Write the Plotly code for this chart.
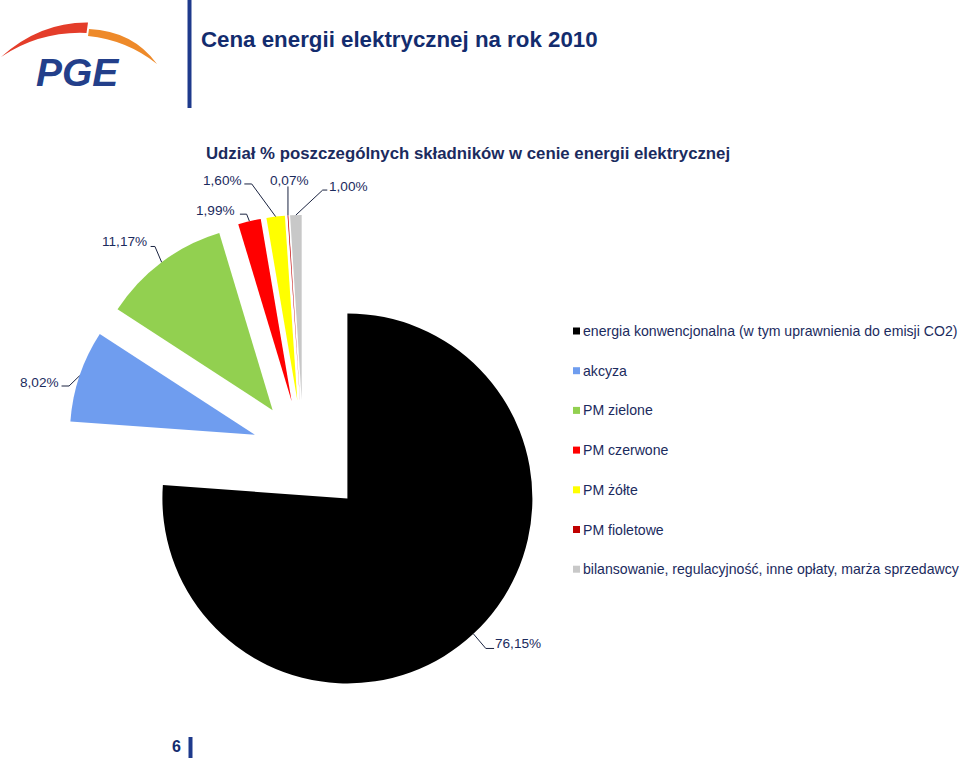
import math
import plotly.graph_objects as go

W, H = 960, 758

# ---------------- data ----------------
labels = [
    "energia konwencjonalna (w tym uprawnienia do emisji CO2)",
    "akcyza",
    "PM zielone",
    "PM czerwone",
    "PM żółte",
    "PM fioletowe",
    "bilansowanie, regulacyjność, inne opłaty, marża sprzedawcy",
]
values = [76.15, 8.02, 11.17, 1.99, 1.60, 0.07, 1.00]
value_text = ["76,15%", "8,02%", "11,17%", "1,99%", "1,60%", "0,07%", "1,00%"]
colors = ["#000000", "#6F9DEF", "#92D050", "#FF0000", "#FFFF00", "#C00000", "#C8C8C8"]
pulls = [0.35, 0.276, 0.276, 0.276, 0.276, 0.276, 0.276]

page_title = "Cena energii elektrycznej na rok 2010"
chart_title = "Udział % poszczególnych składników w cenie energii elektrycznej"
page_number = "6"

# ---------------- geometry (pixels) ----------------
CX, CY, R = 303.3, 451.0, 185.0
half = R * (1 + max(pulls))


def px(x):
    return x / W


def py(y):
    return 1 - y / H


NAVY = "#1B2B5E"
TITLE_NAVY = "#132C6E"
FONT = "Arial, Liberation Sans, sans-serif"

fig = go.Figure()
fig.add_trace(go.Pie(
    labels=labels,
    values=values,
    marker=dict(colors=colors, line=dict(width=0)),
    pull=pulls,
    sort=False,
    direction="clockwise",
    rotation=0,
    textinfo="none",
    hoverinfo="label+percent",
    showlegend=False,
    domain=dict(x=[px(CX - half), px(CX + half)], y=[py(CY + half), py(CY - half)]),
))

shapes = []
annotations = []

# leader line layout: elbow offset from anchor, horizontal segment, text anchor and offset
leader_layout = [
    (12.4, 14.6, 8.3, "left", 0.0, -4.5),
    (-10.5, 10.2, -7.5, "right", -1.5, -4.0),
    (-6.7, -15.7, -4.3, "right", -2.5, -4.5),
    (-2.8, -7.0, -6.7, "right", -4.0, -4.0),
    (-23.9, -32.6, -7.4, "right", -1.5, -3.3),
    (0.0, -29.0, 0.0, "center", 1.5, -6.0),
    (26.8, -25.0, 4.6, "left", 0.5, -3.3),
]

total = sum(values)
cum = 0.0
for i, v in enumerate(values):
    theta = 2 * math.pi * (cum + v / 2) / total
    cum += v
    ux, uy = math.sin(theta), -math.cos(theta)
    ax = CX + (1 + pulls[i]) * R * ux
    ay = CY + (1 + pulls[i]) * R * uy
    ex_, ey_, hl, xa, tdx, tdy = leader_layout[i]
    ex, ey = ax + ex_, ay + ey_
    endx, endy = ex + hl, ey
    path = f"M {px(ax)},{py(ay)} L {px(ex)},{py(ey)} L {px(endx)},{py(endy)}"
    shapes.append(dict(type="path", path=path, xref="paper", yref="paper",
                       line=dict(color="#1A2340", width=1)))
    annotations.append(dict(
        x=px(endx + tdx), y=py(endy + tdy), xref="paper", yref="paper",
        text=value_text[i], showarrow=False, xanchor=xa, yanchor="middle",
        font=dict(family=FONT, size=13.6, color=NAVY), borderpad=0,
    ))

# custom legend
LEG_TOP, LEG_STEP = 331.0, 39.7
for i, lab in enumerate(labels):
    yc = LEG_TOP + i * LEG_STEP
    shapes.append(dict(type="rect", xref="paper", yref="paper",
                       x0=px(573), x1=px(580), y0=py(yc + 3.5), y1=py(yc - 3.5),
                       fillcolor=colors[i], line=dict(width=0)))
    annotations.append(dict(
        x=px(582), y=py(yc), xref="paper", yref="paper", text=lab,
        showarrow=False, xanchor="left", yanchor="middle",
        font=dict(family=FONT, size=14.1, color=NAVY), borderpad=0,
    ))

# titles
annotations.append(dict(x=px(199), y=py(40), xref="paper", yref="paper",
                        text=f"<b>{page_title}</b>", showarrow=False,
                        xanchor="left", yanchor="middle",
                        font=dict(family=FONT, size=22.3, color=TITLE_NAVY)))
annotations.append(dict(x=px(204), y=py(153), xref="paper", yref="paper",
                        text=f"<b>{chart_title}</b>", showarrow=False,
                        xanchor="left", yanchor="middle",
                        font=dict(family=FONT, size=16.8, color=NAVY)))

# header bar and page number bar
shapes.append(dict(type="rect", xref="paper", yref="paper",
                   x0=px(187.5), x1=px(191.5), y0=py(108), y1=py(0),
                   fillcolor="#1E3A8C", line=dict(width=0)))
shapes.append(dict(type="rect", xref="paper", yref="paper",
                   x0=px(188.5), x1=px(192.5), y0=py(758), y1=py(737),
                   fillcolor="#1E3A8C", line=dict(width=0)))
annotations.append(dict(x=px(183), y=py(746), xref="paper", yref="paper",
                        text=f"<b>{page_number}</b>", showarrow=False,
                        xanchor="right", yanchor="middle",
                        font=dict(family=FONT, size=16, color=TITLE_NAVY)))


# PGE logo
def ppath(points_cmds):
    out = []
    for c in points_cmds:
        if isinstance(c, str):
            out.append(c)
        else:
            out.append(f"{px(c[0])},{py(c[1])}")
    return " ".join(out)


red_arc = ppath(["M", (1, 57), "Q", (40, 22), (88, 22.5), "L", (86.5, 33),
                 "Q", (40, 31), (1, 57), "Z"])
orange_arc = ppath(["M", (89, 29), "Q", (133, 31), (157, 64),
                    "Q", (127, 40), (88, 36), "Z"])
shapes.append(dict(type="path", path=red_arc, xref="paper", yref="paper",
                   fillcolor="#E43D2A", line=dict(width=0)))
shapes.append(dict(type="path", path=orange_arc, xref="paper", yref="paper",
                   fillcolor="#EE8A2A", line=dict(width=0)))
annotations.append(dict(x=px(77), y=py(73), xref="paper", yref="paper",
                        text="<b><i>PGE</i></b>", showarrow=False,
                        xanchor="center", yanchor="middle",
                        font=dict(family=FONT, size=39, color="#233F8A")))

fig.update_layout(
    width=W, height=H, autosize=False,
    margin=dict(l=0, r=0, t=0, b=0, pad=0),
    paper_bgcolor="white", plot_bgcolor="white",
    shapes=shapes, annotations=annotations,
    showlegend=False,
)

fig.write_html("out.html")
